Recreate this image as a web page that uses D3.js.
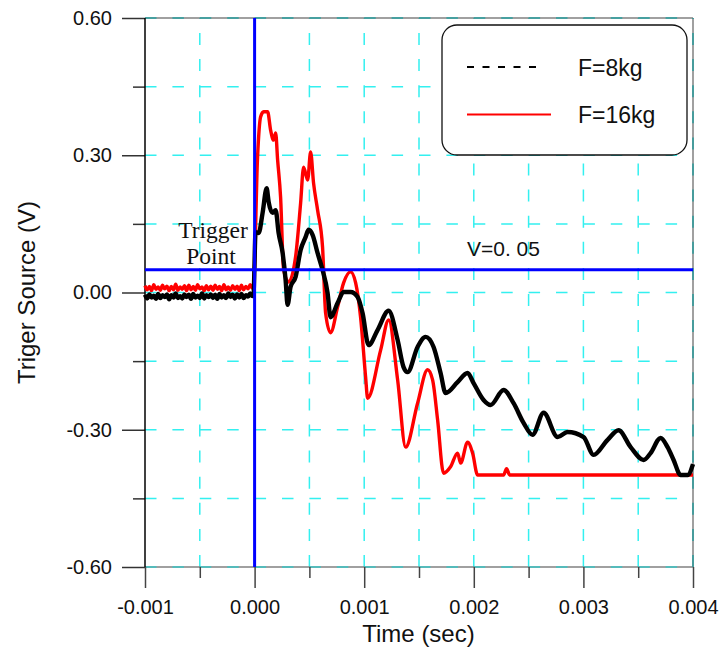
<!DOCTYPE html>
<html>
<head>
<meta charset="utf-8">
<script src="https://cdn.jsdelivr.net/npm/d3@7"></script>
<style>
  html, body { margin: 0; padding: 0; background: #fff; }
  svg { display: block; font-family: "Liberation Sans", Arial, sans-serif; }
</style>
</head>
<body>
<svg id="chart" width="723" height="655"></svg>
<script>
// Trigger-source voltage traces, time in milliseconds, voltage in volts
const seriesNames = ["F=8kg", "F=16kg"];

// pre-trigger samples (shared time stamps)
const preTriggerMs = [-1.00, -0.98, -0.96, -0.94, -0.92, -0.90, -0.88, -0.86, -0.84, -0.82,
  -0.80, -0.78, -0.76, -0.74, -0.72, -0.70, -0.68, -0.66, -0.64, -0.62,
  -0.60, -0.58, -0.56, -0.54, -0.52, -0.50, -0.48, -0.46, -0.44, -0.42,
  -0.40, -0.38, -0.36, -0.34, -0.32, -0.30, -0.28, -0.26, -0.24, -0.22,
  -0.20, -0.18, -0.16, -0.14, -0.12, -0.10, -0.08, -0.06, -0.04, -0.02, -0.01];
const black8kgPreV = [-0.005, -0.013, -0.004, -0.011, -0.007, -0.014, -0.003, -0.012, -0.006, -0.010,
  -0.004, -0.015, -0.006, -0.011, -0.002, -0.012, -0.008, -0.013, -0.004, -0.010,
  -0.005, -0.014, -0.003, -0.011, -0.007, -0.012, -0.002, -0.013, -0.006, -0.010,
  -0.004, -0.012, -0.005, -0.014, -0.003, -0.011, -0.006, -0.012, -0.002, -0.010,
  -0.005, -0.013, -0.004, -0.011, -0.003, -0.012, -0.006, -0.009, -0.002, -0.008, -0.005];
const red16kgPreV = [0.015, 0.006, 0.013, 0.004, 0.017, 0.007, 0.012, 0.005, 0.016, 0.008,
  0.014, 0.004, 0.013, 0.006, 0.018, 0.005, 0.012, 0.007, 0.015, 0.004,
  0.016, 0.006, 0.013, 0.005, 0.017, 0.008, 0.012, 0.004, 0.015, 0.006,
  0.014, 0.005, 0.016, 0.007, 0.013, 0.004, 0.017, 0.006, 0.012, 0.005,
  0.015, 0.007, 0.014, 0.004, 0.016, 0.006, 0.013, 0.008, 0.017, 0.009, 0.012];

// post-trigger response
const black8kgMs = [0.009, 0.037, 0.073, 0.110, 0.128, 0.164, 0.192, 0.219, 0.256, 0.283, 0.301, 0.328, 0.374, 0.420, 0.465, 0.493, 0.529, 0.575, 0.620, 0.666, 0.693, 0.757, 0.812, 0.876, 0.940, 0.985, 1.040, 1.122, 1.223, 1.305, 1.359, 1.396, 1.487, 1.560, 1.633, 1.697, 1.743, 1.852, 1.943, 1.998, 2.089, 2.153, 2.272, 2.363, 2.454, 2.536, 2.637, 2.765, 2.856, 3.002, 3.093, 3.221, 3.321, 3.431, 3.549, 3.613, 3.704, 3.768, 3.823, 3.887, 3.951, 4.0];
const black8kgV  = [0.132, 0.130, 0.174, 0.228, 0.198, 0.174, 0.180, 0.130, 0.086, 0.027, -0.027, 0.012, 0.034, 0.093, 0.121, 0.137, 0.126, 0.086, 0.049, -0.001, -0.054, -0.023, 0.001, 0.001, -0.010, -0.045, -0.115, -0.082, -0.040, -0.104, -0.163, -0.174, -0.119, -0.097, -0.119, -0.176, -0.220, -0.196, -0.176, -0.198, -0.235, -0.246, -0.213, -0.242, -0.285, -0.311, -0.263, -0.316, -0.305, -0.316, -0.355, -0.322, -0.301, -0.338, -0.366, -0.351, -0.318, -0.338, -0.366, -0.399, -0.399, -0.375];

const red16kgMs = [0.027, 0.055, 0.082, 0.119, 0.146, 0.173, 0.192, 0.210, 0.237, 0.265, 0.310, 0.374, 0.420, 0.447, 0.484, 0.511, 0.538, 0.575, 0.620, 0.648, 0.693, 0.757, 0.812, 0.876, 0.922, 0.967, 1.013, 1.031, 1.150, 1.223, 1.305, 1.378, 1.487, 1.578, 1.624, 1.670, 1.724, 1.788, 1.852, 1.880, 1.943, 1.989, 2.035, 2.272, 2.299, 2.327, 4.0];
const red16kgV  = [0.296, 0.384, 0.395, 0.395, 0.355, 0.333, 0.349, 0.290, 0.209, 0.049, 0.023, 0.078, 0.196, 0.274, 0.246, 0.307, 0.239, 0.180, 0.099, -0.045, -0.088, -0.032, 0.021, 0.045, 0.021, -0.054, -0.185, -0.231, -0.126, -0.060, -0.191, -0.338, -0.242, -0.169, -0.191, -0.279, -0.395, -0.381, -0.351, -0.373, -0.327, -0.351, -0.399, -0.399, -0.385, -0.399, -0.399];

const xMajorTicks = [-0.001, 0.000, 0.001, 0.002, 0.003, 0.004];
const xMinorTicks = [-0.0005, 0.0005, 0.0015, 0.0025, 0.0035];
const yMajorTicks = [-0.60, -0.30, 0.00, 0.30, 0.60];
const yMinorTicks = [-0.45, -0.15, 0.15, 0.45];
const triggerTime = 0.0;
const thresholdV = 0.05;

const svg = d3.select("#chart");
const W = 723, H = 655;
const m = { left: 145, right: 30, top: 18, bottom: 88 };
const x = d3.scaleLinear().domain([-0.001, 0.004]).range([m.left, W - m.right]);
const y = d3.scaleLinear().domain([-0.6, 0.6]).range([H - m.bottom, m.top]);
const [x0, x1] = x.range();
const [y0, y1] = y.range(); // y0 bottom, y1 top

const loc = d3.formatLocale({ decimal: ".", thousands: ",", grouping: [3], currency: ["", ""], minus: "-" });

// dashed cyan grid (interior)
const gridX = xMajorTicks.concat(xMinorTicks).filter(v => v > -0.001 && v < 0.004);
const gridY = yMajorTicks.concat(yMinorTicks).filter(v => v > -0.6 && v < 0.6);
const grid = svg.append("g");
grid.selectAll("line.gx").data(gridX).join("line")
  .attr("x1", d => x(d)).attr("x2", d => x(d))
  .attr("y1", y0).attr("y2", y1)
  .attr("stroke", "#33f0f0").attr("stroke-width", 1.5)
  .attr("stroke-dasharray", "12,14.1");
grid.selectAll("line.gy").data(gridY).join("line")
  .attr("x1", x0).attr("x2", x1)
  .attr("y1", d => y(d)).attr("y2", d => y(d))
  .attr("stroke", "#33f0f0").attr("stroke-width", 1.5)
  .attr("stroke-dasharray", "11.5,15.9");

// frame
const frame = svg.append("g").attr("fill", "none");
frame.append("line").attr("x1", x0).attr("x2", x1).attr("y1", y1).attr("y2", y1).attr("stroke", "#808080").attr("stroke-width", 1.5);
frame.append("line").attr("x1", x0).attr("x2", x1).attr("y1", y0).attr("y2", y0).attr("stroke", "#808080").attr("stroke-width", 1.5);
frame.append("line").attr("x1", x1).attr("x2", x1).attr("y1", y1).attr("y2", y0).attr("stroke", "#808080").attr("stroke-width", 1.5);
// grid dashes continuing along the frame edges
frame.append("line").attr("x1", x0).attr("x2", x1).attr("y1", y1).attr("y2", y1).attr("stroke", "#2aa0a0").attr("stroke-width", 1.5).attr("stroke-dasharray", "11.5,15.9");
frame.append("line").attr("x1", x0).attr("x2", x1).attr("y1", y0).attr("y2", y0).attr("stroke", "#3cc4c4").attr("stroke-width", 1.5).attr("stroke-dasharray", "11.5,15.9");
frame.append("line").attr("x1", x1).attr("x2", x1).attr("y1", y0).attr("y2", y1).attr("stroke", "#2a9a9a").attr("stroke-width", 1.5).attr("stroke-dasharray", "12,14.1");

// axes
const tickFont = g => g.selectAll("text")
  .attr("font-family", "'Liberation Sans', Arial, sans-serif")
  .attr("font-size", 20).attr("fill", "#111");

const xAxis = svg.append("g").attr("transform", `translate(0,${y0})`)
  .call(d3.axisBottom(x).tickValues(xMajorTicks).tickSize(21).tickPadding(12).tickFormat(loc.format(".3f")));
xAxis.call(tickFont);
xAxis.select(".domain").remove();
xAxis.selectAll(".tick line").attr("stroke", "#444").attr("stroke-width", 1.5);

const xAxisMinor = svg.append("g").attr("transform", `translate(0,${y0})`)
  .call(d3.axisBottom(x).tickValues(xMinorTicks).tickSize(11).tickFormat(""));
xAxisMinor.select(".domain").remove();
xAxisMinor.selectAll(".tick line").attr("stroke", "#444").attr("stroke-width", 1.5);

const yAxis = svg.append("g").attr("transform", `translate(${x0},0)`)
  .call(d3.axisLeft(y).tickValues(yMajorTicks).tickSize(23).tickPadding(10).tickFormat(loc.format(".2f")));
yAxis.call(tickFont);
yAxis.select(".domain").remove();
yAxis.selectAll(".tick line").attr("stroke", "#333").attr("stroke-width", 1.5);

const yAxisMinor = svg.append("g").attr("transform", `translate(${x0},0)`)
  .call(d3.axisLeft(y).tickValues(yMinorTicks).tickSize(12).tickFormat(""));
yAxisMinor.select(".domain").remove();
yAxisMinor.selectAll(".tick line").attr("stroke", "#333").attr("stroke-width", 1.5);

// left axis line
svg.append("line").attr("x1", x0).attr("x2", x0).attr("y1", y1).attr("y2", y0)
  .attr("stroke", "#000").attr("stroke-width", 1.5);

// axis titles
svg.append("text").attr("x", (x0 + x1) / 2 - 0.5).attr("y", 642)
  .attr("text-anchor", "middle").attr("font-size", 24).attr("fill", "#111")
  .text("Time (sec)");
svg.append("text").attr("transform", `translate(35,${(y0 + y1) / 2}) rotate(-90)`)
  .attr("text-anchor", "middle").attr("font-size", 24).attr("fill", "#111")
  .text("Triger Source (V)");

// traces
const line = d3.line().curve(d3.curveMonotoneX).x(d => x(d[0] / 1000)).y(d => y(d[1]));
const red = d3.zip(preTriggerMs.concat(red16kgMs), red16kgPreV.concat(red16kgV));
const black = d3.zip(preTriggerMs.concat(black8kgMs), black8kgPreV.concat(black8kgV));
svg.append("path").datum(red).attr("d", line)
  .attr("fill", "none").attr("stroke", "#ff0000").attr("stroke-width", 3.4)
  .attr("stroke-linejoin", "round");
svg.append("path").datum(black).attr("d", line)
  .attr("fill", "none").attr("stroke", "#000").attr("stroke-width", 4.4)
  .attr("stroke-linejoin", "round");

// trigger markers
svg.append("line").attr("x1", x(triggerTime)).attr("x2", x(triggerTime)).attr("y1", y1).attr("y2", y0)
  .attr("stroke", "#0000ff").attr("stroke-width", 3);
svg.append("line").attr("x1", x0).attr("x2", x1).attr("y1", y(thresholdV)).attr("y2", y(thresholdV))
  .attr("stroke", "#0000ff").attr("stroke-width", 3);

const ann = svg.append("g").attr("font-family", "'Liberation Serif', 'Times New Roman', serif")
  .attr("font-size", 23.5).attr("fill", "#111").attr("text-anchor", "middle");
ann.append("text").attr("x", 213).attr("y", 238).text("Trigger");
ann.append("text").attr("x", 211).attr("y", 264).text("Point");

svg.append("text").attr("x", 467).attr("y", 256).attr("font-size", 21).attr("fill", "#111")
  .text("V=0. 05");

// legend
const lg = svg.append("g");
lg.append("rect").attr("x", 442).attr("y", 25).attr("width", 245).attr("height", 130)
  .attr("rx", 15).attr("ry", 15).attr("fill", "#fff").attr("stroke", "#111").attr("stroke-width", 1.3);
lg.append("line").attr("x1", 467).attr("x2", 540).attr("y1", 67).attr("y2", 67)
  .attr("stroke", "#000").attr("stroke-width", 2).attr("stroke-dasharray", "7,8.5");
lg.append("line").attr("x1", 467).attr("x2", 551).attr("y1", 114.5).attr("y2", 114.5)
  .attr("stroke", "#ff0000").attr("stroke-width", 2);
lg.append("text").attr("x", 578).attr("y", 76).attr("font-size", 23).attr("fill", "#111").text(seriesNames[0]);
lg.append("text").attr("x", 578).attr("y", 123).attr("font-size", 23).attr("fill", "#111").text(seriesNames[1]);
</script>
</body>
</html>
